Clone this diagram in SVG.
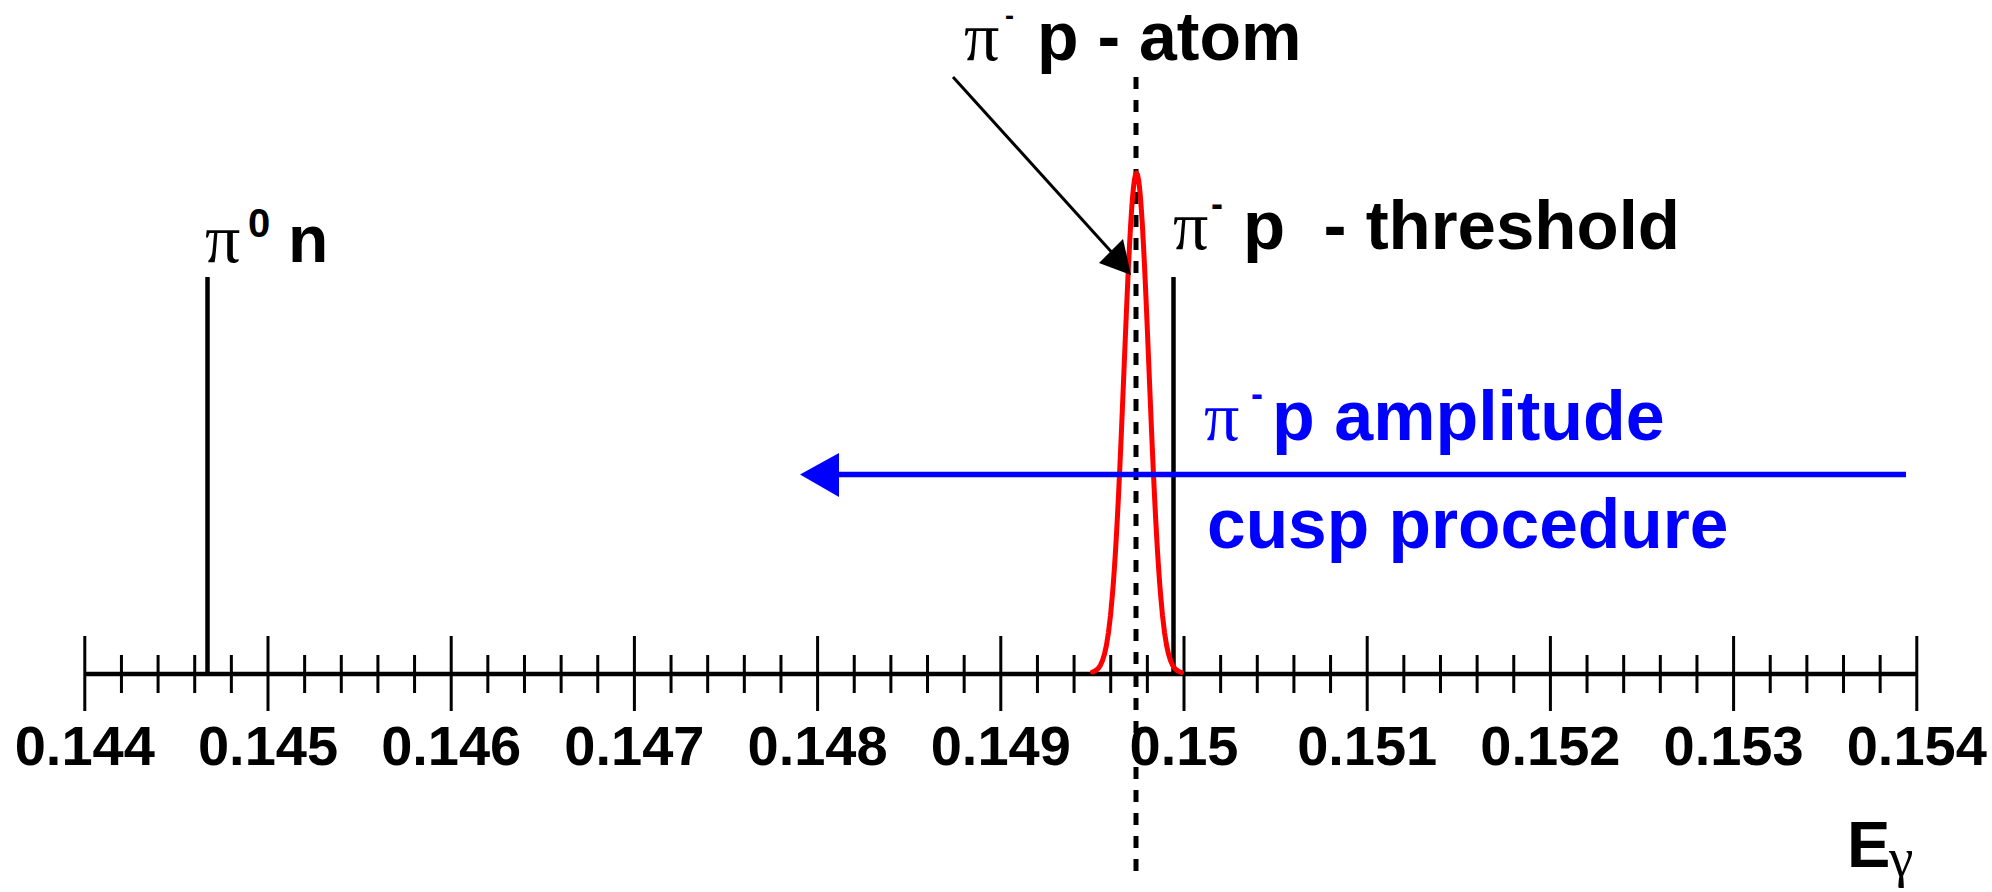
<svg xmlns="http://www.w3.org/2000/svg" width="1992" height="892" viewBox="0 0 1992 892">
<style>
.sans{font-family:"Liberation Sans",Arial,sans-serif;font-weight:bold}
.greek{font-family:"Liberation Serif","Times New Roman",serif;font-weight:normal}
.tick{font-family:"Liberation Sans",Arial,sans-serif;font-weight:bold;font-size:56px;text-anchor:middle}
.blk{fill:#000}
.blu{fill:#0000ff}
</style>
<rect width="1992" height="892" fill="#ffffff"/>
<g id="axis" stroke="#000" fill="none">
<line x1="84.5" y1="674" x2="1917.5" y2="674" stroke-width="4.5"/>
<path stroke-width="3" d="M84.8 636V711M268 636V711M451.2 636V711M634.4 636V711M817.6 636V711M1000.8 636V711M1184 636V711M1367.2 636V711M1550.4 636V711M1733.6 636V711M1916.8 636V711"/>
<path stroke-width="3" d="M121.44 655V693M158.08 655V693M194.72 655V693M231.36 655V693M304.64 655V693M341.28 655V693M377.92 655V693M414.56 655V693M487.84 655V693M524.48 655V693M561.12 655V693M597.76 655V693M671.04 655V693M707.68 655V693M744.32 655V693M780.96 655V693M854.24 655V693M890.88 655V693M927.52 655V693M964.16 655V693M1037.44 655V693M1074.08 655V693M1110.72 655V693M1147.36 655V693M1220.64 655V693M1257.28 655V693M1293.92 655V693M1330.56 655V693M1403.84 655V693M1440.48 655V693M1477.12 655V693M1513.76 655V693M1587.04 655V693M1623.68 655V693M1660.32 655V693M1696.96 655V693M1770.24 655V693M1806.88 655V693M1843.52 655V693M1880.16 655V693"/>
</g>
<g id="tick-labels" class="blk">
<text class="tick" x="84.8" y="765">0.144</text>
<text class="tick" x="268" y="765">0.145</text>
<text class="tick" x="451.2" y="765">0.146</text>
<text class="tick" x="634.4" y="765">0.147</text>
<text class="tick" x="817.6" y="765">0.148</text>
<text class="tick" x="1000.8" y="765">0.149</text>
<text class="tick" x="1184" y="765">0.15</text>
<text class="tick" x="1367.2" y="765">0.151</text>
<text class="tick" x="1550.4" y="765">0.152</text>
<text class="tick" x="1733.6" y="765">0.153</text>
<text class="tick" x="1916.8" y="765">0.154</text>
</g>
<g id="axis-title" class="blk">
<text x="1847" y="867"><tspan class="sans" font-size="65">E</tspan><tspan class="greek" font-size="55" x="1889" y="876">γ</tspan></text>
</g>
<g id="pi0n-line">
<line x1="207.5" y1="277" x2="207.5" y2="674" stroke="#000" stroke-width="4.5"/>
</g>
<g id="pi0n-label" class="blk">
<text x="205" y="262"><tspan class="greek" font-size="70">π</tspan><tspan class="sans" font-size="40" x="248" y="237">0</tspan><tspan class="sans" font-size="66" x="288" y="262">n</tspan></text>
</g>
<g id="threshold-line">
<line x1="1173.5" y1="277" x2="1173.5" y2="674" stroke="#000" stroke-width="4.5"/>
</g>
<g id="threshold-label" class="blk">
<text x="1173" y="249" xml:space="preserve" style="white-space:pre"><tspan class="greek" font-size="70">π</tspan><tspan class="sans" font-size="36" x="1211" y="216">-</tspan><tspan class="sans" font-size="69" x="1243" y="249">p  - threshold</tspan></text>
</g>
<g id="atom-line">
<line x1="1136" y1="77" x2="1136" y2="877" stroke="#000" stroke-width="5" stroke-dasharray="12 11"/>
</g>
<g id="atom-peak">
<polyline fill="none" stroke="#ff0000" stroke-width="5" stroke-linejoin="round" stroke-linecap="round" points="1092.5,672 1094.5,671.2 1096.5,670 1098.5,668.1 1100.5,665.1 1102.5,660.6 1104.5,654.1 1106.5,644.9 1108.5,632.3 1110.5,615.5 1112.5,593.8 1113.5,581 1114.5,566.7 1115.5,551.1 1116.5,534 1117.5,515.5 1118.5,495.7 1119.5,474.7 1120.5,452.6 1121.5,429.6 1122.5,405.9 1123.5,381.9 1124.5,357.6 1125.5,333.5 1126.5,309.9 1127.5,287.2 1128.5,265.6 1129.5,245.6 1130.5,227.4 1131.5,211.4 1132.5,198 1133.5,187.2 1134.5,179.4 1135.5,174.6 1136.5,173 1137.5,174.6 1138.5,179.4 1139.5,187.2 1140.5,198 1141.5,211.4 1142.5,227.4 1143.5,245.6 1144.5,265.6 1145.5,287.2 1146.5,309.9 1147.5,333.5 1148.5,357.6 1149.5,381.9 1150.5,405.9 1151.5,429.6 1152.5,452.6 1153.5,474.7 1154.5,495.7 1155.5,515.5 1156.5,534 1157.5,551.1 1158.5,566.7 1159.5,581 1160.5,593.8 1162.5,615.5 1164.5,632.3 1166.5,644.9 1168.5,654.1 1170.5,660.6 1172.5,665.1 1174.5,668.1 1176.5,670 1178.5,671.2 1181.5,672.5"/>
</g>
<g id="atom-label" class="blk">
<text x="964" y="60"><tspan class="greek" font-size="70">π</tspan><tspan class="sans" font-size="27" x="1005" y="25">-</tspan><tspan class="sans" font-size="68" x="1037" y="60">p - atom</tspan></text>
</g>
<g id="cusp-label" class="blu">
<text x="1204" y="440"><tspan class="greek" font-size="70">π</tspan><tspan class="sans" font-size="36" x="1251" y="406">-</tspan><tspan class="sans" font-size="70" x="1272" y="440">p amplitude</tspan></text>
<text class="sans" font-size="69.5" x="1207" y="548">cusp procedure</text>
</g>
<g id="connectors">
<line x1="953" y1="77" x2="1116" y2="257" stroke="#000" stroke-width="3"/>
<polygon points="1131,275 1099,263 1123,239" fill="#000"/>
<line x1="836" y1="474.5" x2="1906" y2="474.5" stroke="#0000ff" stroke-width="5.5"/>
<polygon points="800,474.5 839,453 839,497" fill="#0000ff"/>
</g>
</svg>
